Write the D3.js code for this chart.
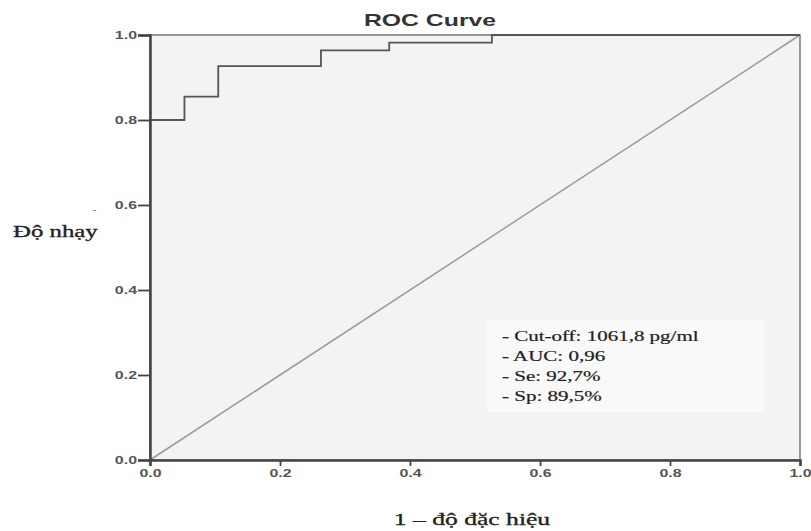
<!DOCTYPE html>
<html>
<head>
<meta charset="utf-8">
<script src="https://cdn.jsdelivr.net/npm/d3@7"></script>
<style>
  body { margin: 0; background: #fff; }
  svg { display: block; }
</style>
</head>
<body>
<div id="chart"></div>
<script>
// ROC points (1 - specificity, sensitivity)
const fpr = [0, 0, 0.053, 0.105, 0.263, 0.368, 0.526, 1.0];
const tpr = [0, 0.8, 0.855, 0.927, 0.964, 0.982, 1.0, 1.0];
const refLine = [0, 1];
const tickVals = [0, 0.2, 0.4, 0.6, 0.8, 1.0];
const notes = ["- Cut-off: 1061,8 pg/ml", "- AUC: 0,96", "- Se: 92,7%", "- Sp: 89,5%"];

let width = 811;
let height = 531;
let margin = {left: 150, right: 11, top: 35, bottom: 71};
// the picture is stretched sideways, so text gets stretched too
let stretch = 1.45;

let svg = d3.select("#chart").append("svg").attr("width", width).attr("height", height);

let x = d3.scaleLinear().domain([0, 1]).range([margin.left, width - margin.right]);
let y = d3.scaleLinear().domain([0, 1]).range([height - margin.bottom, margin.top]);

// put a text at (px, py) stretched in x only
function wideText(px, py, str, anchor, sx) {
  return svg.append("g")
    .attr("transform", "translate(" + px + "," + py + ") scale(" + (sx || stretch) + ",1)")
    .append("text")
    .attr("text-anchor", anchor || "start")
    .text(str);
}

// plot background
svg.append("rect")
  .attr("x", x(0)).attr("y", y(1))
  .attr("width", x(1) - x(0)).attr("height", y(0) - y(1))
  .style("fill", "#f3f3f3")
  .style("stroke", "#777").style("stroke-width", 1.5);

// annotation box (slightly lighter)
svg.append("rect")
  .attr("x", x(0.518)).attr("y", y(0.329))
  .attr("width", x(0.945) - x(0.518)).attr("height", y(0.113) - y(0.329))
  .style("fill", "#f9f9f9");

// diagonal reference line
svg.append("line")
  .attr("x1", x(refLine[0])).attr("y1", y(refLine[0]))
  .attr("x2", x(refLine[1])).attr("y2", y(refLine[1]))
  .style("stroke", "#9a9a9a").style("stroke-width", 1.5);

// ROC step curve
let lineGenerator = d3.line()
  .x((d, i) => x(fpr[i]))
  .y((d, i) => y(tpr[i]))
  .curve(d3.curveStepAfter);

svg.append("path")
  .attr("d", lineGenerator(fpr))
  .style("fill", "none")
  .style("stroke", "#555")
  .style("stroke-width", 1.8);

// axes
let xAxis = d3.axisBottom(x).tickValues(tickVals).tickFormat(d3.format(".1f")).tickSize(6).tickPadding(3);
let yAxis = d3.axisLeft(y).tickValues(tickVals).tickFormat(d3.format(".1f")).tickSize(12).tickPadding(1);

let gx = svg.append("g").attr("transform", "translate(0," + y(0) + ")").call(xAxis);
let gy = svg.append("g").attr("transform", "translate(" + x(0) + ",0)").call(yAxis);

[gx, gy].forEach(g => {
  g.select(".domain").style("stroke", "#444").style("stroke-width", 2.5);
  g.selectAll(".tick line").style("stroke", "#444").style("stroke-width", 1.8);
  g.selectAll(".tick text")
    .style("font-family", "'Liberation Sans', Arial, sans-serif")
    .style("font-weight", "bold")
    .style("font-size", "11px")
    .style("fill", "#555")
    .attr("x", function() { return +d3.select(this).attr("x") / stretch; })
    .attr("transform", "scale(" + stretch + ",1)");
});

// title
wideText(430, 26, "ROC Curve", "middle", 1.55)
  .style("font-family", "'Liberation Sans', Arial, sans-serif")
  .style("font-weight", "bold")
  .style("font-size", "16px")
  .style("fill", "#333");

// axis titles
wideText(13, 237, "Độ nhạy", "start", 1.55)
  .style("font-family", "'Liberation Serif', 'Times New Roman', serif")
  .style("font-size", "16px")
  .style("fill", "#222")
  .style("stroke", "#222").style("stroke-width", 0.3);

svg.append("text")
  .attr("x", 93).attr("y", 213)
  .style("font-family", "'Liberation Serif', serif")
  .style("font-size", "10px")
  .style("fill", "#666")
  .text("-");

wideText(472, 525, "1 – độ đặc hiệu", "middle", 1.6)
  .style("font-family", "'Liberation Serif', 'Times New Roman', serif")
  .style("font-size", "16px")
  .style("fill", "#222")
  .style("stroke", "#222").style("stroke-width", 0.3);

// annotation text
notes.forEach((d, i) => {
  wideText(502, 341 + i * 20, d, "start", 1.5)
    .style("font-family", "'Liberation Serif', 'Times New Roman', serif")
    .style("font-size", "14px")
    .style("fill", "#222")
    .style("stroke", "#222").style("stroke-width", 0.2);
});
</script>
</body>
</html>
